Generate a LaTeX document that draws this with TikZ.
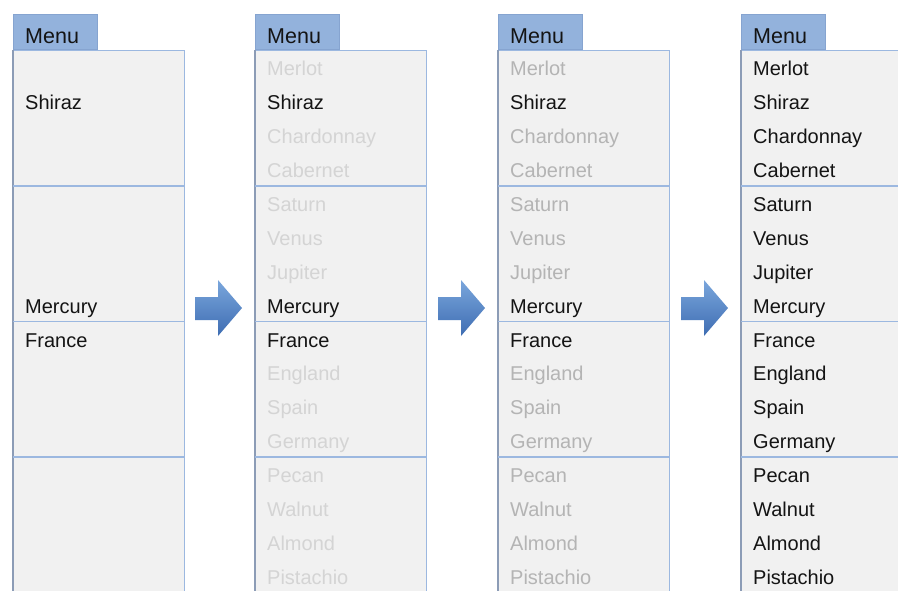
\documentclass[tikz,border=0pt]{standalone}
\usepackage{fontspec}
\setmainfont{Liberation Sans}
\definecolor{panelfill}{HTML}{F1F1F1}
\definecolor{panelline}{HTML}{9CB8E0}
\definecolor{leftline}{HTML}{8C9CB6}
\definecolor{tabfill}{HTML}{93B2DC}
\definecolor{tabline}{HTML}{86A4D0}
\definecolor{ink}{HTML}{141414}
\definecolor{greyA}{HTML}{D4D4D4}
\definecolor{greyB}{HTML}{B4B4B4}
\definecolor{arrowtop}{HTML}{7AA6DC}
\definecolor{arrowbot}{HTML}{3E6DB2}
\tikzset{
  panelbox/.style={draw=panelline, fill=panelfill, line width=1.4pt, minimum width=171pt, minimum height=545pt, inner sep=0pt, anchor=north west},
  tabbox/.style={draw=tabline, fill=tabfill, line width=1pt, minimum width=84pt, minimum height=35pt, inner sep=0pt, anchor=south west},
  menutext/.style={font=\fontsize{21.5}{24}\selectfont, text=ink, inner sep=0pt, anchor=base west},
  item/.style={font=\fontsize{20}{24}\selectfont, inner sep=0pt, anchor=base west},
  divider/.style={draw=panelline, line width=1.6pt},
  leftedge/.style={draw=leftline, line width=1.6pt},
  bigarrow/.style={top color=arrowtop, bottom color=arrowbot, draw=none}
}
\begin{document}
\begin{tikzpicture}[x=1pt,y=-1pt]
\useasboundingbox (0,0) rectangle (898,590);
\clip (0,0) rectangle (898,590);
\fill[white] (0,0) rectangle (898,590);
% panels
\foreach \L/\pn in {13/1, 255/2, 498/3, 741/4}{
  \node[panelbox] (p\pn) at (\L,50) {};
  \draw[leftedge] (p\pn.north west) -- (p\pn.south west);
  \draw[divider] (\L,186) -- (\L+171,186);
  \draw[divider] (\L,321.5) -- (\L+171,321.5);
  \draw[divider] (\L,457) -- (\L+171,457);
  \node[tabbox] (tab\pn) at (\L,50) {};
  \node[menutext] (menu\pn) at (\L+12,43) {Menu};
}
% panel 1 items
\node[item, text=ink] (i1-1) at (25,75.8+33.9) {Shiraz};
\node[item, text=ink] (i1-7) at (25,75.8+33.9*7) {Mercury};
\node[item, text=ink] (i1-8) at (25,75.8+33.9*8) {France};
% panels 2-4 items
\foreach \L/\g/\pn in {255/greyA/2, 498/greyB/3, 741/ink/4}{
  \foreach \t [count=\k from 0] in {Merlot,Shiraz,Chardonnay,Cabernet,Saturn,Venus,Jupiter,Mercury,France,England,Spain,Germany,Pecan,Walnut,Almond,Pistachio}{
    \pgfmathsetmacro\yy{75.8+33.9*\k}
    \ifnum\k=1 \def\cc{ink}\else\ifnum\k=7 \def\cc{ink}\else\ifnum\k=8 \def\cc{ink}\else\edef\cc{\g}\fi\fi\fi
    \node[item, text=\cc] (i\pn-\k) at (\L+12,\yy) {\t};
  }
}
% arrows
\foreach \ax/\an in {195/a1, 438/a2, 681/a3}{
  \coordinate (\an) at (\ax,308);
  \shade[bigarrow] (\ax,297) -- (\ax+23,297) -- (\ax+23,280) -- (\ax+47,308)
    -- (\ax+23,336) -- (\ax+23,320) -- (\ax,320) -- cycle;
}
\end{tikzpicture}
\end{document}
